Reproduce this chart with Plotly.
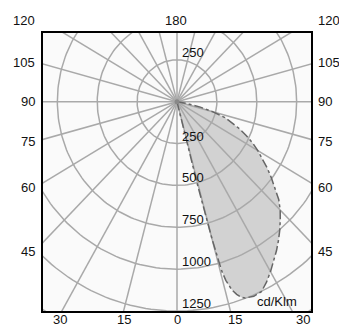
import math
import plotly.graph_objects as go

# ---- data ----
gamma_deg = [13.5, 14, 14.5, 15, 15.5, 16, 17, 18, 19, 20, 22.5, 25, 27.5, 30, 32.5,
             35, 37.5, 40, 42.5, 45, 47.5, 50, 52.5, 55, 57.5, 60, 62.5, 65, 67.5,
             70, 72.5, 75, 77.5, 80, 82.5]
intensity = [0, 200, 500, 850, 1050, 1110, 1175, 1210, 1235, 1248, 1258, 1252, 1215, 1172, 1128,
             1087, 1045, 1002, 958, 915, 865, 800, 745, 690, 635, 585, 535, 480, 425,
             365, 315, 230, 150, 60, 0]

ring_values = [250, 500, 750, 1000, 1250, 1500]
ring_labels = ["250", "500", "750", "1000", "1250"]
spoke_angles = list(range(0, 360, 15))
left_labels = ["120", "105", "90", "75", "60", "45"]
right_labels = ["120", "105", "90", "75", "60", "45"]
top_label = "180"
bottom_labels = ["30", "15", "0", "15", "30"]
unit_label = "cd/Klm"

# ---- layout constants ----
W, H = 339, 326
PW, PH = 268, 278
L, T = 43, 33
R, B = W - L - PW, H - T - PH
GRID = "#a9a9a9"
FONT = dict(family="Liberation Sans, Arial, sans-serif", size=13, color="#111111")


def px_to_paper(px, py):
    """page pixel -> paper coords of the plot area"""
    return (px - L) / PW, (T + PH - py) / PH


fig = go.Figure()

# lobe polygon
lx = [0.0]
ly = [0.0]
for g, v in zip(gamma_deg, intensity):
    a = math.radians(g)
    lx.append(v * math.sin(a))
    ly.append(-v * math.cos(a))
lx.append(0.0)
ly.append(0.0)

fig.add_trace(go.Scatter(x=lx, y=ly, mode="lines", fill="toself",
                         fillcolor="#d2d2d2", line=dict(width=0),
                         hoverinfo="skip", showlegend=False))

# rings
for r in ring_values:
    n = 240
    xs = [r * math.cos(2 * math.pi * i / n) for i in range(n + 1)]
    ys = [r * math.sin(2 * math.pi * i / n) for i in range(n + 1)]
    fig.add_trace(go.Scatter(x=xs, y=ys, mode="lines",
                             line=dict(color=GRID, width=1.5),
                             hoverinfo="skip", showlegend=False))

# spokes
for a in spoke_angles:
    t = math.radians(a)
    fig.add_trace(go.Scatter(x=[0, 4000 * math.sin(t)], y=[0, -4000 * math.cos(t)],
                             mode="lines", line=dict(color=GRID, width=1.5),
                             hoverinfo="skip", showlegend=False))

# lobe outline
fig.add_trace(go.Scatter(x=lx, y=ly, mode="lines",
                         line=dict(color="#666666", width=1.5, dash="dashdot"),
                         hoverinfo="skip", showlegend=False))

# centre dot
fig.add_trace(go.Scatter(x=[0], y=[0], mode="markers",
                         marker=dict(color="#888888", size=5),
                         hoverinfo="skip", showlegend=False))

ann = []
# ring labels
ann.append(dict(x=0, y=ring_values[0], xref="x", yref="y", text=ring_labels[0],
                xanchor="left", yanchor="bottom", xshift=3, yshift=-2,
                showarrow=False, font=FONT))
for r, lab in zip(ring_values, ring_labels):
    ann.append(dict(x=0, y=-r, xref="x", yref="y", text=lab,
                    xanchor="left", yanchor="bottom", xshift=3, yshift=-2,
                    showarrow=False, font=FONT))

# angle labels
side_y = [20, 62, 101, 141, 187, 251]
for lab, py in zip(left_labels, side_y):
    x, y = px_to_paper(37, py)
    ann.append(dict(x=x, y=y, xref="paper", yref="paper", text=lab,
                    xanchor="right", yanchor="middle", showarrow=False, font=FONT))
for lab, py in zip(right_labels, side_y):
    x, y = px_to_paper(316, py)
    ann.append(dict(x=x, y=y, xref="paper", yref="paper", text=lab,
                    xanchor="left", yanchor="middle", showarrow=False, font=FONT))
x, y = px_to_paper(176, 20)
ann.append(dict(x=x, y=y, xref="paper", yref="paper", text=top_label,
                xanchor="center", yanchor="middle", showarrow=False, font=FONT))
bottom_x = [60, 124, 177, 235, 303]
for lab, px in zip(bottom_labels, bottom_x):
    x, y = px_to_paper(px, 319)
    ann.append(dict(x=x, y=y, xref="paper", yref="paper", text=lab,
                    xanchor="center", yanchor="middle", showarrow=False, font=FONT))
x, y = px_to_paper(299, 311)
ann.append(dict(x=x, y=y, xref="paper", yref="paper", text=unit_label,
                xanchor="right", yanchor="bottom", showarrow=False, font=FONT))

fig.update_layout(
    width=W, height=H,
    margin=dict(l=L, r=R, t=T, b=B, pad=0),
    paper_bgcolor="white", plot_bgcolor="#fafafa",
    annotations=ann,
    hovermode=False,
    xaxis=dict(range=[-840, 840], showgrid=False, zeroline=False, showticklabels=False,
               ticks="", showline=True, mirror=True, linecolor="black", linewidth=2,
               fixedrange=True),
    yaxis=dict(range=[-1250, 410], showgrid=False, zeroline=False, showticklabels=False,
               ticks="", showline=True, mirror=True, linecolor="black", linewidth=2,
               fixedrange=True),
    showlegend=False,
)

fig.write_html("out.html",
               config={"displayModeBar": False, "staticPlot": True},
               post_script="document.body.style.margin='0';document.body.style.overflow='hidden';")
